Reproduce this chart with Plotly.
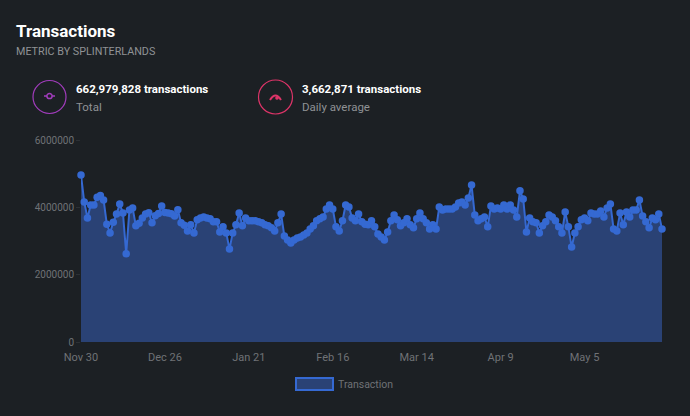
import pandas as pd
import plotly.graph_objects as go

W, H = 690, 416

start_date = "2020-11-30"
tick_dates = ["2020-11-30", "2020-12-26", "2021-01-21", "2021-02-16", "2021-03-14", "2021-04-09", "2021-05-05"]
tick_labels = ["Nov 30", "Dec 26", "Jan 21", "Feb 16", "Mar 14", "Apr 9", "May 5"]
y_ticks = [0, 2000000, 4000000, 6000000]

# daily transactions, millions
transactions = [
    4.96, 4.16, 3.68, 4.07, 4.07, 4.30, 4.35, 4.22, 3.50, 3.24,
    3.56, 3.80, 4.10, 3.83, 2.62, 3.92, 3.98, 3.45, 3.53, 3.68,
    3.80, 3.84, 3.54, 3.75, 3.82, 4.04, 3.85, 3.83, 3.81, 3.74,
    3.93, 3.54, 3.47, 3.30, 3.48, 3.24, 3.63, 3.68, 3.71, 3.68,
    3.66, 3.57, 3.57, 3.27, 3.42, 3.24, 2.76, 3.24, 3.48, 3.83,
    3.45, 3.68, 3.60, 3.60, 3.60, 3.57, 3.54, 3.48, 3.45, 3.39,
    3.30, 3.54, 3.80, 3.15, 3.03, 2.94, 3.03, 3.09, 3.12, 3.18,
    3.24, 3.36, 3.45, 3.60, 3.66, 3.71, 3.95, 4.07, 3.95, 3.42,
    3.30, 3.60, 4.07, 4.01, 3.68, 3.60, 3.80, 3.57, 3.50, 3.48,
    3.60, 3.42, 3.21, 3.12, 3.03, 3.27, 3.60, 3.77, 3.63, 3.45,
    3.54, 3.66, 3.48, 3.39, 3.66, 3.83, 3.66, 3.54, 3.36, 3.48,
    3.36, 4.01, 3.92, 3.95, 3.95, 3.95, 4.01, 4.13, 4.16, 4.07,
    4.28, 4.66, 3.77, 3.60, 3.66, 3.71, 3.42, 4.04, 3.95, 3.98,
    3.95, 4.07, 3.95, 4.07, 3.92, 3.71, 4.49, 4.25, 3.27, 3.68,
    3.57, 3.54, 3.24, 3.45, 3.57, 3.77, 3.71, 3.60, 3.42, 3.24,
    3.86, 3.42, 2.82, 3.24, 3.42, 3.63, 3.68, 3.60, 3.83, 3.80,
    3.80, 3.89, 3.71, 3.98, 4.10, 3.36, 3.30, 3.83, 3.48, 3.86,
    3.71, 3.92, 3.92, 4.22, 3.74, 3.57, 3.39, 3.68, 3.63, 3.80,
    3.36,
]

BG = "#1c2024"
BLUE = "#3569d2"
FILL = "#2a4275"
GREY = "#6f7276"
LIGHT = "#8f9295"
PURPLE = "#a13cbc"
PINK = "#dd3468"
FONT = "Roboto, sans-serif"


def px(x):
    return x / W


def py(y):
    return 1 - y / H


def label(x, y, text, size, color, bold=False, xanchor="left"):
    if bold:
        text = "<b>" + text + "</b>"
    return dict(x=px(x), y=py(y), xref="paper", yref="paper", text=text, showarrow=False, borderpad=0,
                xanchor=xanchor, yanchor="middle", font=dict(family=FONT, size=size, color=color))


def circle(cx, cy, r, color, width=1.2, fill=None):
    return dict(type="circle", xref="paper", yref="paper", x0=px(cx - r), x1=px(cx + r),
                y0=py(cy + r), y1=py(cy - r), line=dict(color=color, width=width), fillcolor=fill)


def seg(x0, y0, x1, y1, color, width=1.5):
    return dict(type="line", xref="paper", yref="paper", x0=px(x0), x1=px(x1), y0=py(y0), y1=py(y1),
                line=dict(color=color, width=width))


dates = pd.date_range(start_date, periods=len(transactions))
values = [v * 1000000 for v in transactions]

fig = go.Figure()
fig.add_trace(go.Scatter(
    x=dates, y=values, mode="lines+markers", fill="tozeroy", fillcolor=FILL, cliponaxis=False,
    line=dict(color=BLUE, width=2), marker=dict(color=BLUE, size=7.5), name="Transaction",
))

gauge_arc = "M {:.4f} {:.4f} Q {:.4f} {:.4f} {:.4f} {:.4f}".format(px(270), py(100), px(275.5), py(91), px(281), py(100))

fig.update_layout(
    width=W, height=H, margin=dict(l=0, r=0, t=0, b=0),
    paper_bgcolor=BG, plot_bgcolor=BG, showlegend=False,
    xaxis=dict(domain=[px(81), px(662)], range=[dates[0], dates[-1]], tickvals=tick_dates, ticktext=tick_labels,
               showgrid=False, zeroline=False, showline=False, ticks="", tickangle=0, automargin=False,
               ticklabelstandoff=7, tickfont=dict(family=FONT, size=11, color=GREY)),
    yaxis=dict(domain=[py(342), py(140)], range=[0, 6000000], tickvals=y_ticks, ticktext=[str(t) for t in y_ticks],
               showgrid=False, zeroline=False, showline=False, ticks="outside", ticklen=4, tickcolor="#2c3034",
               automargin=False, tickfont=dict(family=FONT, size=10, color=GREY)),
    annotations=[
        label(15, 31, "Transactions", 17, "#ffffff", bold=True),
        label(15, 51, "METRIC BY SPLINTERLANDS", 10.75, LIGHT),
        label(75, 89, "662,979,828 transactions", 11.5, "#ffffff", bold=True),
        label(75, 107, "Total", 11.5, LIGHT),
        label(301, 89, "3,662,871 transactions", 11.5, "#ffffff", bold=True),
        label(301, 107, "Daily average", 11.5, LIGHT),
        label(337, 384, "Transaction", 10.5, GREY),
    ],
    shapes=[
        circle(49.5, 97, 16.5, PURPLE),
        seg(44, 96, 55, 96, PURPLE),
        circle(49.5, 96, 2.6, PURPLE, width=1.5, fill=BG),
        circle(275.5, 97, 17, PINK),
        dict(type="path", xref="paper", yref="paper", path=gauge_arc, line=dict(color=PINK, width=2)),
        circle(277, 98, 1.2, PINK, fill=PINK),
        dict(type="rect", xref="paper", yref="paper", x0=px(296), x1=px(333), y0=py(390), y1=py(378),
             line=dict(color=BLUE, width=2), fillcolor=FILL),
    ],
)

fig.write_html("out.html", config=dict(displayModeBar=False),
               post_script="document.body.style.margin='0';document.body.style.background='" + BG + "';")
